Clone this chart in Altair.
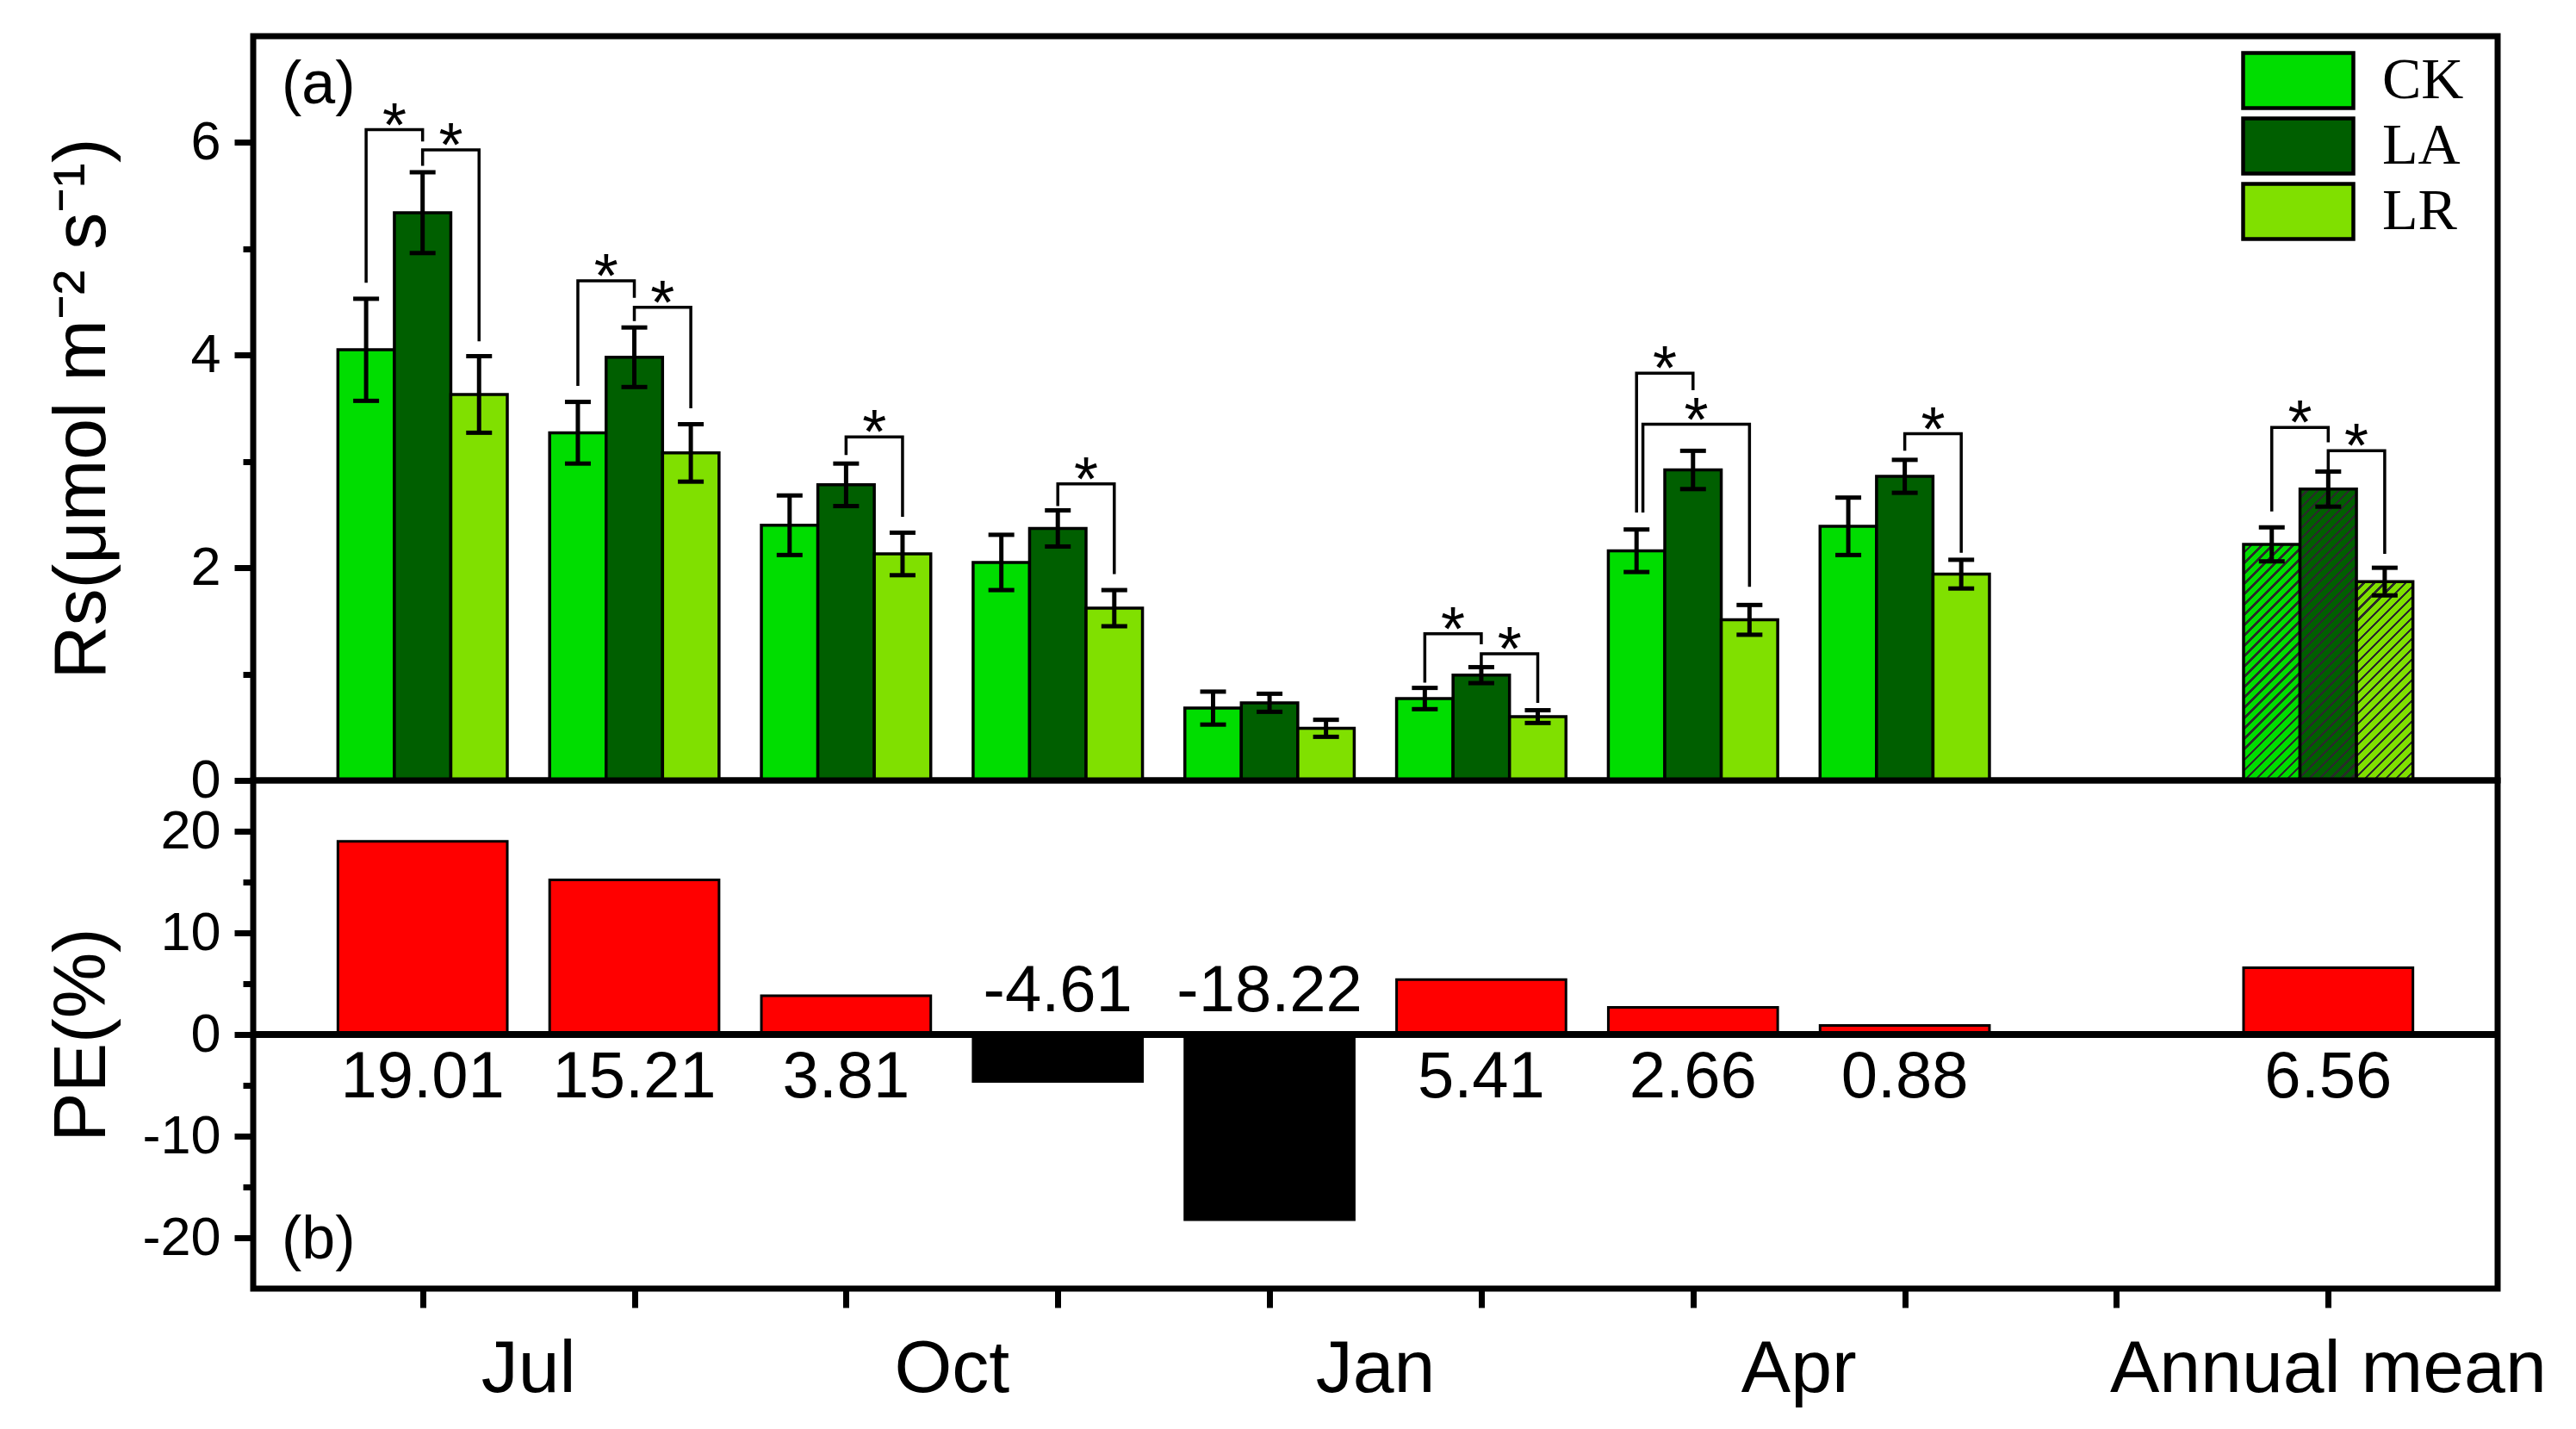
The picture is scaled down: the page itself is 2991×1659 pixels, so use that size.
import altair as alt
import pandas as pd

# ---------------- data ----------------
group_pos = [1, 2, 3, 4, 5, 6, 7, 8, 10]
treatments = ["CK", "LA", "LR"]
ck = [4.05, 3.27, 2.40, 2.05, 0.68, 0.77, 2.16, 2.39, 2.22]
ck_err = [0.48, 0.29, 0.28, 0.26, 0.155, 0.10, 0.20, 0.27, 0.16]
la = [5.34, 3.98, 2.78, 2.37, 0.73, 0.99, 2.92, 2.86, 2.74]
la_err = [0.38, 0.28, 0.20, 0.17, 0.085, 0.075, 0.18, 0.155, 0.165]
lr = [3.63, 3.08, 2.13, 1.62, 0.49, 0.60, 1.51, 1.94, 1.87]
lr_err = [0.36, 0.27, 0.20, 0.17, 0.08, 0.06, 0.14, 0.135, 0.13]
pe = [19.01, 15.21, 3.81, -4.61, -18.22, 5.41, 2.66, 0.88, 6.56]

month_labels = ["Jul", "Oct", "Jan", "Apr", "Annual mean"]
month_label_pos = [1.5, 3.5, 5.5, 7.5, 10]

# significance brackets
br_pos = [1, 1, 2, 2, 3, 4, 6, 6, 7, 7, 8, 10, 10]
br_from = ["CK", "LA", "CK", "LA", "LA", "LA", "CK", "LA", "CK", "CK", "LA", "CK", "LA"]
br_to = ["LA", "LR", "LA", "LR", "LR", "LR", "LA", "LR", "LA", "LR", "LR", "LA", "LR"]
br_top = [6.12, 5.93, 4.70, 4.45, 3.23, 2.79, 1.38, 1.19, 3.83, 3.35, 3.26, 3.32, 3.10]
br_left = [4.68, 5.78, 3.71, 4.32, 3.06, 2.58, 0.92, 1.07, 2.52, 2.52, 3.10, 2.53, 2.92]
br_right = [6.01, 4.13, 4.54, 3.50, 2.48, 1.94, 1.28, 0.73, 3.67, 1.82, 2.14, 3.18, 2.13]
br_shift = [0, 0, 0, 0, 0, 0, 0, 0, 0, 0.03, 0, 0, 0]

colors = ["#00DD00", "#005F00", "#80E000"]
hatch_dark = "#2a2a2a"

# ---------------- layout ----------------
W = 2606
H1 = 864
H2 = 590
XMIN, XMAX = 0.2, 10.8
Y1MAX = 7
px_per_x = W / (XMAX - XMIN)
px_per_y1 = H1 / Y1MAX
FONT = "Liberation Sans"

offsets = {"CK": -0.2667, "LA": 0.0, "LR": 0.2667}
half = 0.1333

rows = []
for t, vals, errs in zip(treatments, [ck, la, lr], [ck_err, la_err, lr_err]):
    for p, v, e in zip(group_pos, vals, errs):
        xc = p + offsets[t]
        rows.append(dict(pos=p, treat=t, val=v, err=e, xc=xc, x1=xc - half,
                         x2=xc + half, lo=v - e, hi=v + e, zero=0))
bars = pd.DataFrame(rows)
monthly = bars[bars.pos != 10]

# bracket polylines
br_rows = []
ast_rows = []
for i, (p, f, t, top, lb, rb, sh) in enumerate(zip(br_pos, br_from, br_to, br_top,
                                                  br_left, br_right, br_shift)):
    xl = p + offsets[f] + sh
    xr = p + offsets[t]
    for k, (xx, yy) in enumerate([(xl, lb), (xl, top), (xr, top), (xr, rb)]):
        br_rows.append(dict(id=i, k=k, bx=xx, by=yy))
    ast_rows.append(dict(ax=(xl + xr) / 2, ay=top, s="*"))
br_df = pd.DataFrame(br_rows)
ast_df = pd.DataFrame(ast_rows)

pe_df = pd.DataFrame(dict(pos=group_pos, pe=pe,
                          x1=[p - 0.4 for p in group_pos],
                          x2=[p + 0.4 for p in group_pos],
                          zero=[0] * len(pe),
                          lab=[f"{v:.2f}" for v in pe]))
lab_df = pd.DataFrame(dict(lab=month_labels, lx=month_label_pos))

xscale = alt.Scale(domain=[XMIN, XMAX], nice=False, zero=False)
y1scale = alt.Scale(domain=[0, Y1MAX], nice=False, zero=False)
y2scale = alt.Scale(domain=[-25, 25], nice=False, zero=False)

y1axis = alt.Axis(
    values=[0, 1, 2, 3, 4, 5, 6],
    labelExpr="datum.value % 2 === 0 ? datum.label : ''",
    tickSize={"condition": {"test": "datum.value % 2 === 0", "value": 22}, "value": 12},
    tickWidth=7, tickColor="black", domain=False, grid=False,
    labelFontSize=63, labelFont=FONT, labelColor="black", labelPadding=16,
    title="Rs(μmol m⁻² s⁻¹)", titleFontSize=86, titleFont=FONT,
    titleFontWeight="normal", titleColor="black",
    titleX=-155, titleY=H1 / 2, titleAngle=270, titleAlign="center",
    titleBaseline="bottom",
)
y2axis = alt.Axis(
    values=[-20, -15, -10, -5, 0, 5, 10, 15, 20],
    labelExpr="datum.value % 10 === 0 ? '' + datum.value : ''",
    tickSize={"condition": {"test": "datum.value % 10 === 0", "value": 22}, "value": 12},
    tickWidth=7, tickColor="black", domain=False, grid=False,
    labelFontSize=63, labelFont=FONT, labelColor="black", labelPadding=16,
    title="PE(%)", titleFontSize=86, titleFont=FONT,
    titleFontWeight="normal", titleColor="black",
    titleX=-155, titleY=H2 / 2, titleAngle=270, titleAlign="center",
    titleBaseline="bottom",
)
xaxis_bottom = alt.Axis(values=list(range(1, 11)), labels=False, tickSize=22,
                        tickWidth=7, tickColor="black", domain=False, grid=False,
                        title=None)


def X1(f):
    return alt.X(f, type="quantitative", scale=xscale, axis=None)


def Y1(f):
    return alt.Y(f, type="quantitative", scale=y1scale, axis=y1axis)


def X2b(f):
    return alt.X(f, type="quantitative", scale=xscale, axis=xaxis_bottom)


def Y2(f):
    return alt.Y(f, type="quantitative", scale=y2scale, axis=y2axis)


def hatch(base, dark, w, h, spacing=8.5, lw=2.4):
    a, b = 1.0 / h, 1.0 / w
    c = (a + b) / (a * a + b * b)
    n = ((w + h) / 2 ** 0.5) / spacing
    frac = lw / spacing
    stops = []
    t = 0.0
    while t < 1.0 - 1e-9:
        s1 = min(1.0, t + (1 - frac) / n)
        s2 = min(1.0, t + 1.0 / n)
        stops += [alt.GradientStop(offset=round(t, 5), color=base),
                  alt.GradientStop(offset=round(s1, 5), color=base),
                  alt.GradientStop(offset=round(s1, 5), color=dark),
                  alt.GradientStop(offset=round(s2, 5), color=dark)]
        t = s2
    return alt.LinearGradient(gradient="linear", stops=stops, x1=0, y1=0,
                              x2=c * a, y2=c * b)


# ---------------- top panel ----------------
bar_layer = alt.Chart(monthly).mark_rect(stroke="black", strokeWidth=3.5).encode(
    x=X1("x1"), x2="x2", y=Y1("val"), y2="zero",
    color=alt.Color("treat:N",
                    scale=alt.Scale(domain=treatments, range=colors),
                    legend=alt.Legend(
                        orient="none", legendX=2308, legendY=17, title=None,
                        symbolType="M-2,-1H2V1H-2Z", symbolSize=4096,
                        symbolOffset=32, symbolStrokeColor="black",
                        symbolStrokeWidth=4.5, symbolOpacity=1,
                        labelFont="Liberation Serif", labelFontSize=68,
                        labelColor="black", labelOffset=63, rowPadding=-11,
                        padding=0)),
)

annual_layers = []
for t, col in zip(treatments, colors):
    sub = bars[(bars.pos == 10) & (bars.treat == t)]
    hpx = float(sub.val.iloc[0]) * px_per_y1
    wpx = 2 * half * px_per_x
    annual_layers.append(
        alt.Chart(sub).mark_rect(fill=hatch(col, hatch_dark, wpx, hpx),
                                 stroke="black", strokeWidth=3.5).encode(
            x=X1("x1"), x2="x2", y=Y1("val"), y2="zero"))

err_rule = alt.Chart(bars).mark_rule(color="black", strokeWidth=5).encode(
    x=X1("xc"), y=Y1("lo"), y2="hi")
cap_hi = alt.Chart(bars).mark_tick(color="black", orient="horizontal", size=30,
                                   thickness=5, opacity=1).encode(x=X1("xc"), y=Y1("hi"))
cap_lo = alt.Chart(bars).mark_tick(color="black", orient="horizontal", size=30,
                                   thickness=5, opacity=1).encode(x=X1("xc"), y=Y1("lo"))

brackets = alt.Chart(br_df).mark_line(color="black", strokeWidth=3.5,
                                      strokeJoin="miter", strokeCap="butt").encode(
    x=X1("bx"), y=Y1("by"), detail="id:N", order="k:Q")
asterisks = alt.Chart(ast_df).mark_text(fontSize=72, font=FONT, color="black",
                                        baseline="alphabetic", dy=19).encode(
    x=X1("ax"), y=Y1("ay"), text="s:N")
label_a = alt.Chart(pd.DataFrame({"t": ["(a)"]})).mark_text(
    fontSize=70, font=FONT, color="black", align="left", baseline="alphabetic").encode(
    x=alt.value(33), y=alt.value(78), text="t:N")

top = alt.layer(bar_layer, *annual_layers, err_rule, cap_hi, cap_lo, brackets,
                asterisks, label_a).properties(width=W, height=H1)

# ---------------- bottom panel ----------------
pe_bars = alt.Chart(pe_df).mark_rect(stroke="black", strokeWidth=3).encode(
    x=X2b("x1"), x2="x2", y=Y2("pe"), y2="zero",
    fill=alt.condition("datum.pe >= 0", alt.value("#FF0000"), alt.value("black")),
)
zero_line = alt.Chart(pd.DataFrame({"z": [0]})).mark_rule(
    color="black", strokeWidth=8).encode(y=Y2("z"))
pos_labels = alt.Chart(pe_df).transform_filter("datum.pe >= 0").mark_text(
    fontSize=76, font=FONT, color="black", baseline="middle", dy=50).encode(
    x=X2b("pos"), y=Y2("zero"), text="lab:N")
neg_labels = alt.Chart(pe_df).transform_filter("datum.pe < 0").mark_text(
    fontSize=76, font=FONT, color="black", baseline="middle", dy=-50).encode(
    x=X2b("pos"), y=Y2("zero"), text="lab:N")
month_text = alt.Chart(lab_df).mark_text(
    fontSize=86, font=FONT, color="black", baseline="alphabetic").encode(
    x=X2b("lx"), y=alt.value(H2 + 120), text="lab:N")
label_b = alt.Chart(pd.DataFrame({"t": ["(b)"]})).mark_text(
    fontSize=70, font=FONT, color="black", align="left", baseline="alphabetic").encode(
    x=alt.value(33), y=alt.value(555), text="t:N")

bottom = alt.layer(pe_bars, zero_line, pos_labels, neg_labels, month_text,
                   label_b).properties(width=W, height=H2)

chart = alt.vconcat(top, bottom, spacing=0, bounds="flush").resolve_scale(
    y="independent").resolve_legend(color="independent").properties(
    padding={"left": 40, "top": 30, "right": 10, "bottom": 10},
    background="white",
).configure_view(stroke="black", strokeWidth=7)

chart.save("out.html", embed_options={"renderer": "svg", "actions": False})
